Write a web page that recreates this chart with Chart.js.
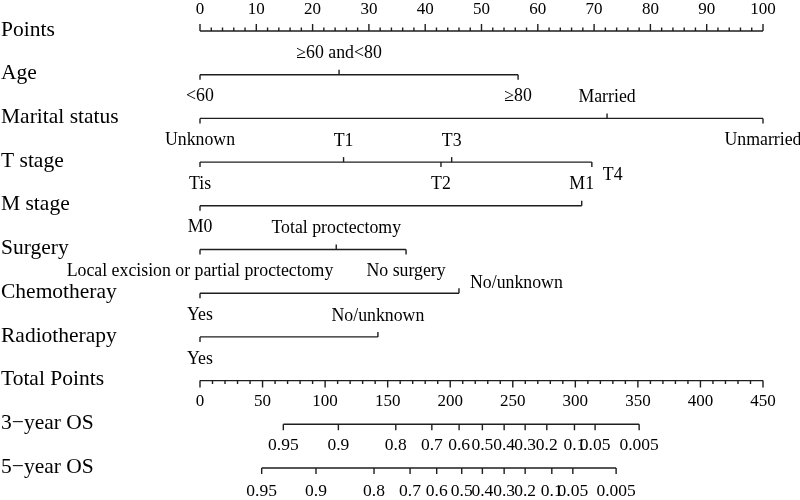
<!DOCTYPE html>
<html>
<head>
<meta charset="utf-8">
<script src="https://cdn.jsdelivr.net/npm/chart.js@4.4.0/dist/chart.umd.min.js"></script>
<style>
body { margin: 0; background: #fff; }
#wrap { width: 800px; height: 500px; }
</style>
</head>
<body>
<div id="wrap"><canvas id="nomo"></canvas></div>
<script>
// row names (top to bottom)
var rowNames = ['Points', 'Age', 'Marital status', 'T stage', 'M stage', 'Surgery',
	'Chemotheray', 'Radiotherapy', 'Total Points', '3\u2212year OS', '5\u2212year OS'];

// axis tick labels
var pointTickLabels = [0, 10, 20, 30, 40, 50, 60, 70, 80, 90, 100];
var totalTickLabels = [0, 50, 100, 150, 200, 250, 300, 350, 400, 450];

// variables : level names + points
var ageLevels = ['<60', '\u226560 and<80', '\u226580'];
var agePoints = [0, 24.7, 56.5];
var maritalLevels = ['Unknown', 'Married', 'Unmarried'];
var maritalPoints = [0, 72.3, 100];
var tLevels = ['Tis', 'T1', 'T2', 'T3', 'T4'];
var tPoints = [0, 25.5, 42.8, 44.7, 69.6];
var mLevels = ['M0', 'M1'];
var mPoints = [0, 67.8];
var surgeryLevels = ['Local excision or partial proctectomy', 'Total proctectomy', 'No surgery'];
var surgeryPoints = [0, 24.2, 36.6];
var chemoLevels = ['Yes', 'No/unknown'];
var chemoPoints = [0, 46.0];
var radioLevels = ['Yes', 'No/unknown'];
var radioPoints = [0, 31.6];

// survival scales (value -> total points)
var osLabels = ['0.95', '0.9', '0.8', '0.7', '0.6', '0.5', '0.4', '0.3', '0.2', '0.1', '0.05', '0.005'];
var os3Points = [66.6, 110.6, 156.5, 185.3, 207.1, 225.7, 243.1, 259.9, 277.2, 299.3, 315.8, 351.0];
var os5Points = [49.3, 92.7, 139.1, 167.9, 189.2, 209.2, 225.7, 243.1, 259.9, 281.2, 298.0, 332.6];

// label side for each level (layout only)
var ageSide = ['down', 'up', 'down'];
var maritalSide = ['down', 'up', 'down'];
var tSide = ['down', 'up', 'down', 'up', 'rightdown'];
var mSide = ['down', 'up'];
var surgerySide = ['down', 'up', 'down'];
var chemoSide = ['down', 'rightup'];
var radioSide = ['down', 'up'];

var varRows = [
	{ row: 1, levels: ageLevels, pts: agePoints, side: ageSide },
	{ row: 2, levels: maritalLevels, pts: maritalPoints, side: maritalSide },
	{ row: 3, levels: tLevels, pts: tPoints, side: tSide },
	{ row: 4, levels: mLevels, pts: mPoints, side: mSide },
	{ row: 5, levels: surgeryLevels, pts: surgeryPoints, side: surgerySide },
	{ row: 6, levels: chemoLevels, pts: chemoPoints, side: chemoSide },
	{ row: 7, levels: radioLevels, pts: radioPoints, side: radioSide }
];

var lineColor = '#1e1e1e';
var serif = '"Liberation Serif", "Times New Roman", serif';

// horizontal lines -> datasets
var datasets = [];
function addLine(axisId, a, b, row) {
	datasets.push({
		data: [{ x: a, y: row }, { x: b, y: row }],
		xAxisID: axisId,
		yAxisID: 'y',
		borderColor: lineColor,
		borderWidth: 1.4,
		pointRadius: 0,
		clip: false
	});
}
addLine('x', pointTickLabels[0], pointTickLabels[pointTickLabels.length - 1], 0);
for (var i = 0; i < varRows.length; i++) {
	addLine('x', Math.min.apply(null, varRows[i].pts), Math.max.apply(null, varRows[i].pts), varRows[i].row);
}
addLine('xt', totalTickLabels[0], totalTickLabels[totalTickLabels.length - 1], 8);
addLine('xt', Math.min.apply(null, os3Points), Math.max.apply(null, os3Points), 9);
addLine('xt', Math.min.apply(null, os5Points), Math.max.apply(null, os5Points), 10);

// ticks and texts
var nomoDraw = {
	id: 'nomoDraw',
	afterDatasetsDraw: function(chart) {
		var ctx = chart.ctx;
		var sx = chart.scales.x, st = chart.scales.xt, sy = chart.scales.y;
		ctx.save();
		ctx.strokeStyle = lineColor;
		ctx.lineWidth = 1.4;
		ctx.fillStyle = '#000';

		// row names
		ctx.font = '21.5px ' + serif;
		ctx.textAlign = 'left';
		ctx.textBaseline = 'middle';
		for (var i = 0; i < rowNames.length; i++) {
			ctx.fillText(rowNames[i], 1, sy.getPixelForValue(i) - 1);
		}

		// Points axis (ticks up)
		var y0 = sy.getPixelForValue(0);
		ctx.beginPath();
		for (var v = 0; v <= 100; v += 2) {
			var px = sx.getPixelForValue(v);
			ctx.moveTo(px, y0);
			ctx.lineTo(px, y0 - (v % 10 == 0 ? 7 : 3.5));
		}
		ctx.stroke();
		ctx.font = '17px ' + serif;
		ctx.textAlign = 'center';
		pointTickLabels.forEach(function(t) {
			ctx.fillText(String(t), sx.getPixelForValue(t), y0 - 21);
		});

		// variable rows
		ctx.font = '17.8px ' + serif;
		varRows.forEach(function(r) {
			var yy = sy.getPixelForValue(r.row);
			for (var k = 0; k < r.levels.length; k++) {
				var px = sx.getPixelForValue(r.pts[k]);
				var s = r.side[k];
				var up = (s == 'up' || s == 'rightup');
				ctx.beginPath();
				ctx.moveTo(px, yy);
				ctx.lineTo(px, yy + (up ? -5 : 5));
				ctx.stroke();
				if (s == 'up') {
					ctx.textAlign = 'center';
					ctx.fillText(r.levels[k], px, yy - 21);
				} else if (s == 'down') {
					ctx.textAlign = 'center';
					ctx.fillText(r.levels[k], px, yy + 22);
				} else if (s == 'rightdown') {
					ctx.textAlign = 'left';
					ctx.fillText(r.levels[k], px + 11, yy + 13);
				} else {
					ctx.textAlign = 'left';
					ctx.fillText(r.levels[k], px + 11, yy - 10);
				}
			}
		});

		// Total Points axis (ticks down)
		var y8 = sy.getPixelForValue(8);
		ctx.beginPath();
		for (var v = 0; v <= 450; v += 10) {
			var px = st.getPixelForValue(v);
			ctx.moveTo(px, y8);
			ctx.lineTo(px, y8 + (v % 50 == 0 ? 7 : 3.5));
		}
		ctx.stroke();
		ctx.font = '17px ' + serif;
		ctx.textAlign = 'center';
		totalTickLabels.forEach(function(t) {
			ctx.fillText(String(t), st.getPixelForValue(t), y8 + 21);
		});

		// OS scales
		ctx.font = '17.5px ' + serif;
		[[9, os3Points, 21], [10, os5Points, 23]].forEach(function(o) {
			var yy = sy.getPixelForValue(o[0]);
			ctx.beginPath();
			for (var k = 0; k < o[1].length; k++) {
				var px = st.getPixelForValue(o[1][k]);
				ctx.moveTo(px, yy);
				ctx.lineTo(px, yy + 6);
			}
			ctx.stroke();
			for (var k = 0; k < o[1].length; k++) {
				ctx.fillText(osLabels[k], st.getPixelForValue(o[1][k]), yy + o[2]);
			}
		});
		ctx.restore();
	}
};

var chart = new Chart(document.getElementById('nomo'), {
	type: 'line',
	data: { datasets: datasets },
	options: {
		responsive: true,
		maintainAspectRatio: false,
		animation: false,
		events: [],
		layout: { padding: { left: 200, right: 37, top: 31, bottom: 32 } },
		plugins: { legend: { display: false }, tooltip: { enabled: false } },
		scales: {
			x: { type: 'linear', min: 0, max: 100, display: false },
			xt: { type: 'linear', min: 0, max: 450, display: false },
			y: { type: 'linear', min: 0, max: 10, reverse: true, display: false }
		}
	},
	plugins: [nomoDraw]
});
</script>
</body>
</html>
